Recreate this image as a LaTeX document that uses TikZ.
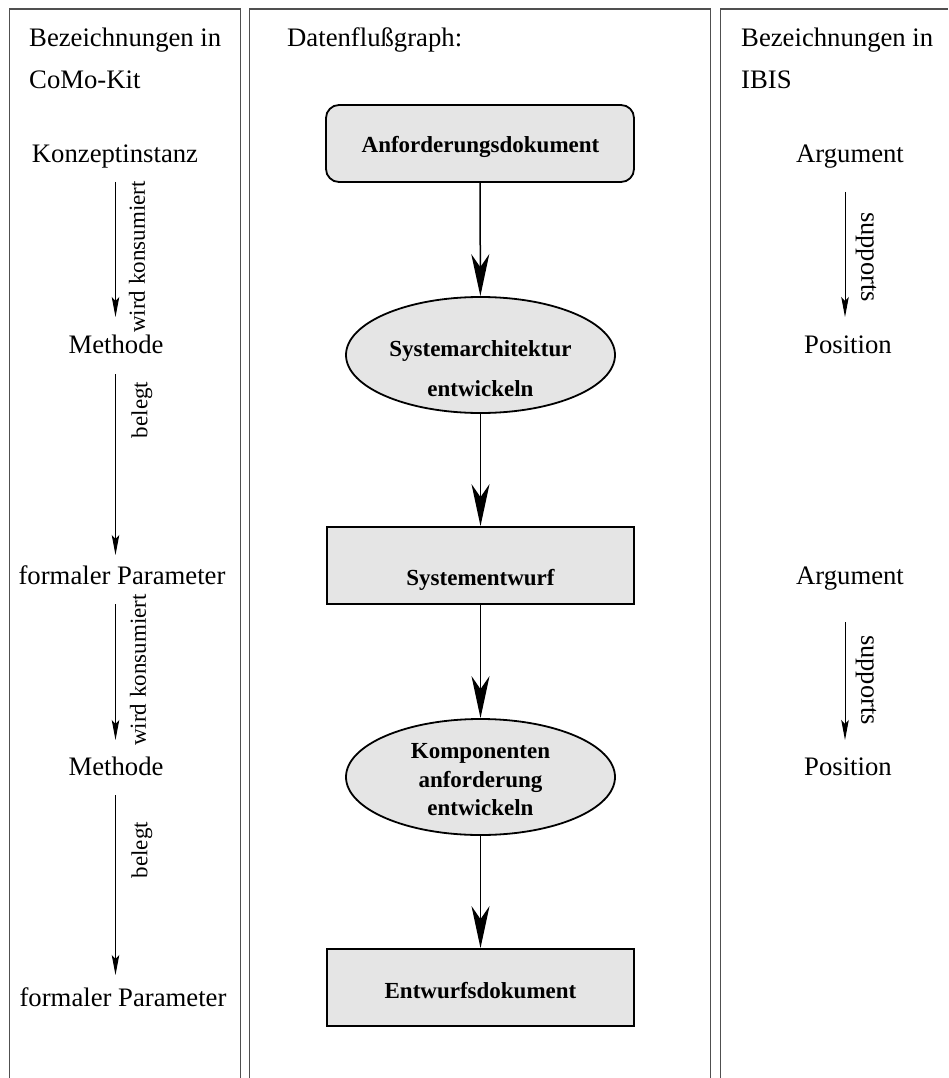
\documentclass[tikz,border=0pt]{standalone}
\usepackage{fontspec}
\setmainfont{Liberation Serif}
\usetikzlibrary{shapes.geometric,arrows.meta}
\definecolor{boxfill}{RGB}{229,229,229}
\definecolor{panelline}{RGB}{80,80,80}
\begin{document}
\begin{tikzpicture}[x=1pt,y=-1pt,
  panel/.style={draw=panelline,line width=1.3pt},
  lbl/.style={inner sep=0pt,font=\fontsize{26.7}{32}\selectfont},
  smalllbl/.style={inner sep=0pt,font=\fontsize{23}{28}\selectfont},
  suplbl/.style={inner sep=0pt,font=\fontsize{26.5}{32}\selectfont},
  flowtxt/.style={inner sep=0pt,font=\fontsize{23}{28}\selectfont\bfseries},
  rbox/.style={draw=black,line width=1.8pt,fill=boxfill,rectangle,rounded corners=13pt,minimum width=308pt,minimum height=77pt,inner sep=0pt},
  sbox/.style={draw=black,line width=1.8pt,fill=boxfill,rectangle,minimum width=307pt,minimum height=77pt,inner sep=0pt},
  ebox/.style={draw=black,line width=1.8pt,fill=boxfill,ellipse,minimum width=269pt,minimum height=116pt,inner sep=0pt},
  bigarrow/.style={draw=black,line width=1.5pt,-{Stealth[length=42pt,width=18pt,inset=13pt]}},
  smallarrow/.style={draw=black,line width=1pt,-{Stealth[length=20pt,width=7.5pt,inset=4pt]}}
]
\useasboundingbox (0,0) rectangle (948,1078);
\fill[white] (0,0) rectangle (948,1078);

% panels
\draw[panel] (9.5,1078) -- (9.5,9) -- (240.5,9) -- (240.5,1078);
\draw[panel] (249.5,1078) -- (249.5,9) -- (710.5,9) -- (710.5,1078);
\draw[panel] (720.5,1078) -- (720.5,9) -- (948,9);

% headers
\node[lbl,anchor=base west] (h1a) at (29,47) {Bezeichnungen in};
\node[lbl,anchor=base west] (h1b) at (29,89) {CoMo-Kit};
\node[lbl,anchor=base west] (h2) at (287,47) {Datenflußgraph:};
\node[lbl,anchor=base west] (h3a) at (741,47) {Bezeichnungen in};
\node[lbl,anchor=base west] (h3b) at (741,89) {IBIS};

% left column
\node[lbl,anchor=base] (k1) at (115,163) {Konzeptinstanz};
\node[lbl,anchor=base] (m1) at (116,353) {Methode};
\node[lbl,anchor=base] (f1) at (122,584) {formaler Parameter};
\node[lbl,anchor=base] (m2) at (116,775) {Methode};
\node[lbl,anchor=base] (f2) at (123,1006) {formaler Parameter};

\coordinate (la1s) at (115.5,182); \coordinate (la1e) at (115.5,317);
\coordinate (la2s) at (115.5,374); \coordinate (la2e) at (115.5,555);
\coordinate (la3s) at (115.5,604); \coordinate (la3e) at (115.5,740);
\coordinate (la4s) at (115.5,795); \coordinate (la4e) at (115.5,975);
\draw[smallarrow] (la1s) -- (la1e);
\draw[smallarrow] (la2s) -- (la2e);
\draw[smallarrow] (la3s) -- (la3e);
\draw[smallarrow] (la4s) -- (la4e);
\node[smalllbl,rotate=90] (w1) at (137,257) {wird konsumiert};
\node[smalllbl,rotate=90] (b1) at (142,410) {belegt};
\node[smalllbl,rotate=90] (w2) at (138,670) {wird konsumiert};
\node[smalllbl,rotate=90] (b2) at (142,850) {belegt};

% right column
\node[lbl,anchor=base] (r1) at (850,163) {Argument};
\node[lbl,anchor=base] (r2) at (848,353) {Position};
\node[lbl,anchor=base] (r3) at (850,584) {Argument};
\node[lbl,anchor=base] (r4) at (848,775) {Position};
\coordinate (ra1s) at (845,192); \coordinate (ra1e) at (845,317);
\coordinate (ra2s) at (845,622); \coordinate (ra2e) at (845,740);
\draw[smallarrow] (ra1s) -- (ra1e);
\draw[smallarrow] (ra2s) -- (ra2e);
\node[suplbl,rotate=-90] (s1) at (866,257) {supports};
\node[suplbl,rotate=-90] (s2) at (866,680) {supports};

% flow graph
\node[rbox] (n1) at (480,143.5) {};
\node[ebox] (n2) at (480.5,355) {};
\node[sbox] (n3) at (480.5,565.5) {};
\node[ebox] (n4) at (480.5,777) {};
\node[sbox] (n5) at (480.5,987.5) {};

\node[flowtxt,anchor=base] (t1) at (480.5,153) {Anforderungsdokument};
\node[flowtxt,anchor=base] (t2a) at (480.5,356) {Systemarchitektur};
\node[flowtxt,anchor=base] (t2b) at (480.5,396) {entwickeln};
\node[flowtxt,anchor=base] (t3) at (480.5,585) {Systementwurf};
\node[flowtxt,anchor=base] (t4a) at (480.5,758) {Komponenten};
\node[flowtxt,anchor=base] (t4b) at (480.5,787) {anforderung};
\node[flowtxt,anchor=base] (t4c) at (480.5,815) {entwickeln};
\node[flowtxt,anchor=base] (t5) at (480.5,998) {Entwurfsdokument};

\draw[bigarrow] (n1) -- (n2);
\draw[bigarrow] (n2) -- (n3);
\draw[bigarrow] (n3) -- (n4);
\draw[bigarrow] (n4) -- (n5);
\end{tikzpicture}
\end{document}
